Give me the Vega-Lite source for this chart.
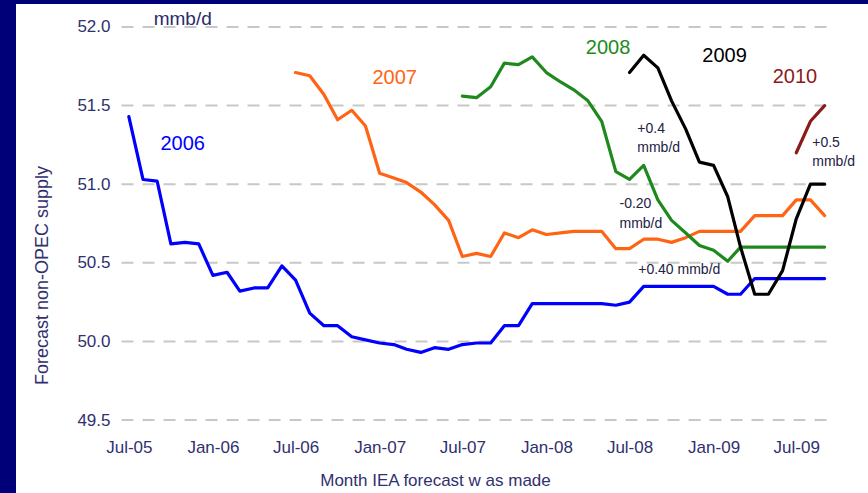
{
  "$schema": "https://vega.github.io/schema/vega-lite/v6.json",
  "autosize": {"type": "none"},
  "padding": {"left": 16, "top": 4, "right": 0, "bottom": 0},
  "width": 852,
  "height": 489,
  "background": "#000078",
  "config": {
    "view": {"fill": "white", "stroke": null},
    "font": "Liberation Sans"
  },
  "datasets": {
    "grid": [
      {"date": "2005-06-15", "date2": "2009-09-20", "value": 49.5},
      {"date": "2005-06-15", "date2": "2009-09-20", "value": 50.0},
      {"date": "2005-06-15", "date2": "2009-09-20", "value": 50.5},
      {"date": "2005-06-15", "date2": "2009-09-20", "value": 51.0},
      {"date": "2005-06-15", "date2": "2009-09-20", "value": 51.5},
      {"date": "2005-06-15", "date2": "2009-09-20", "value": 52.0}
    ],
    "lines": [
      {"series": "2006", "date": "2005-07-01", "value": 51.43},
      {"series": "2006", "date": "2005-08-01", "value": 51.03},
      {"series": "2006", "date": "2005-09-01", "value": 51.02},
      {"series": "2006", "date": "2005-10-01", "value": 50.62},
      {"series": "2006", "date": "2005-11-01", "value": 50.63},
      {"series": "2006", "date": "2005-12-01", "value": 50.62},
      {"series": "2006", "date": "2006-01-01", "value": 50.42},
      {"series": "2006", "date": "2006-02-01", "value": 50.44},
      {"series": "2006", "date": "2006-03-01", "value": 50.32},
      {"series": "2006", "date": "2006-04-01", "value": 50.34},
      {"series": "2006", "date": "2006-05-01", "value": 50.34},
      {"series": "2006", "date": "2006-06-01", "value": 50.48},
      {"series": "2006", "date": "2006-07-01", "value": 50.39},
      {"series": "2006", "date": "2006-08-01", "value": 50.18},
      {"series": "2006", "date": "2006-09-01", "value": 50.10},
      {"series": "2006", "date": "2006-10-01", "value": 50.10},
      {"series": "2006", "date": "2006-11-01", "value": 50.03},
      {"series": "2006", "date": "2006-12-01", "value": 50.01},
      {"series": "2006", "date": "2007-01-01", "value": 49.99},
      {"series": "2006", "date": "2007-02-01", "value": 49.98},
      {"series": "2006", "date": "2007-03-01", "value": 49.95},
      {"series": "2006", "date": "2007-04-01", "value": 49.93},
      {"series": "2006", "date": "2007-05-01", "value": 49.96},
      {"series": "2006", "date": "2007-06-01", "value": 49.95},
      {"series": "2006", "date": "2007-07-01", "value": 49.98},
      {"series": "2006", "date": "2007-08-01", "value": 49.99},
      {"series": "2006", "date": "2007-09-01", "value": 49.99},
      {"series": "2006", "date": "2007-10-01", "value": 50.10},
      {"series": "2006", "date": "2007-11-01", "value": 50.10},
      {"series": "2006", "date": "2007-12-01", "value": 50.24},
      {"series": "2006", "date": "2008-01-01", "value": 50.24},
      {"series": "2006", "date": "2008-02-01", "value": 50.24},
      {"series": "2006", "date": "2008-03-01", "value": 50.24},
      {"series": "2006", "date": "2008-04-01", "value": 50.24},
      {"series": "2006", "date": "2008-05-01", "value": 50.24},
      {"series": "2006", "date": "2008-06-01", "value": 50.23},
      {"series": "2006", "date": "2008-07-01", "value": 50.25},
      {"series": "2006", "date": "2008-08-01", "value": 50.35},
      {"series": "2006", "date": "2008-09-01", "value": 50.35},
      {"series": "2006", "date": "2008-10-01", "value": 50.35},
      {"series": "2006", "date": "2008-11-01", "value": 50.35},
      {"series": "2006", "date": "2008-12-01", "value": 50.35},
      {"series": "2006", "date": "2009-01-01", "value": 50.35},
      {"series": "2006", "date": "2009-02-01", "value": 50.30},
      {"series": "2006", "date": "2009-03-01", "value": 50.30},
      {"series": "2006", "date": "2009-04-01", "value": 50.40},
      {"series": "2006", "date": "2009-05-01", "value": 50.40},
      {"series": "2006", "date": "2009-06-01", "value": 50.40},
      {"series": "2006", "date": "2009-07-01", "value": 50.40},
      {"series": "2006", "date": "2009-08-01", "value": 50.40},
      {"series": "2006", "date": "2009-09-01", "value": 50.40},

      {"series": "2007", "date": "2006-07-01", "value": 51.71},
      {"series": "2007", "date": "2006-08-01", "value": 51.69},
      {"series": "2007", "date": "2006-09-01", "value": 51.57},
      {"series": "2007", "date": "2006-10-01", "value": 51.41},
      {"series": "2007", "date": "2006-11-01", "value": 51.47},
      {"series": "2007", "date": "2006-12-01", "value": 51.37},
      {"series": "2007", "date": "2007-01-01", "value": 51.07},
      {"series": "2007", "date": "2007-02-01", "value": 51.04},
      {"series": "2007", "date": "2007-03-01", "value": 51.01},
      {"series": "2007", "date": "2007-04-01", "value": 50.95},
      {"series": "2007", "date": "2007-05-01", "value": 50.87},
      {"series": "2007", "date": "2007-06-01", "value": 50.77},
      {"series": "2007", "date": "2007-07-01", "value": 50.54},
      {"series": "2007", "date": "2007-08-01", "value": 50.56},
      {"series": "2007", "date": "2007-09-01", "value": 50.54},
      {"series": "2007", "date": "2007-10-01", "value": 50.69},
      {"series": "2007", "date": "2007-11-01", "value": 50.66},
      {"series": "2007", "date": "2007-12-01", "value": 50.71},
      {"series": "2007", "date": "2008-01-01", "value": 50.68},
      {"series": "2007", "date": "2008-02-01", "value": 50.69},
      {"series": "2007", "date": "2008-03-01", "value": 50.70},
      {"series": "2007", "date": "2008-04-01", "value": 50.70},
      {"series": "2007", "date": "2008-05-01", "value": 50.70},
      {"series": "2007", "date": "2008-06-01", "value": 50.59},
      {"series": "2007", "date": "2008-07-01", "value": 50.59},
      {"series": "2007", "date": "2008-08-01", "value": 50.65},
      {"series": "2007", "date": "2008-09-01", "value": 50.65},
      {"series": "2007", "date": "2008-10-01", "value": 50.63},
      {"series": "2007", "date": "2008-11-01", "value": 50.66},
      {"series": "2007", "date": "2008-12-01", "value": 50.70},
      {"series": "2007", "date": "2009-01-01", "value": 50.70},
      {"series": "2007", "date": "2009-02-01", "value": 50.70},
      {"series": "2007", "date": "2009-03-01", "value": 50.70},
      {"series": "2007", "date": "2009-04-01", "value": 50.80},
      {"series": "2007", "date": "2009-05-01", "value": 50.80},
      {"series": "2007", "date": "2009-06-01", "value": 50.80},
      {"series": "2007", "date": "2009-07-01", "value": 50.90},
      {"series": "2007", "date": "2009-08-01", "value": 50.90},
      {"series": "2007", "date": "2009-09-01", "value": 50.80},

      {"series": "2008", "date": "2007-07-01", "value": 51.56},
      {"series": "2008", "date": "2007-08-01", "value": 51.55},
      {"series": "2008", "date": "2007-09-01", "value": 51.62},
      {"series": "2008", "date": "2007-10-01", "value": 51.77},
      {"series": "2008", "date": "2007-11-01", "value": 51.76},
      {"series": "2008", "date": "2007-12-01", "value": 51.81},
      {"series": "2008", "date": "2008-01-01", "value": 51.71},
      {"series": "2008", "date": "2008-02-01", "value": 51.65},
      {"series": "2008", "date": "2008-03-01", "value": 51.60},
      {"series": "2008", "date": "2008-04-01", "value": 51.53},
      {"series": "2008", "date": "2008-05-01", "value": 51.40},
      {"series": "2008", "date": "2008-06-01", "value": 51.08},
      {"series": "2008", "date": "2008-07-01", "value": 51.03},
      {"series": "2008", "date": "2008-08-01", "value": 51.12},
      {"series": "2008", "date": "2008-09-01", "value": 50.90},
      {"series": "2008", "date": "2008-10-01", "value": 50.77},
      {"series": "2008", "date": "2008-11-01", "value": 50.69},
      {"series": "2008", "date": "2008-12-01", "value": 50.61},
      {"series": "2008", "date": "2009-01-01", "value": 50.58},
      {"series": "2008", "date": "2009-02-01", "value": 50.51},
      {"series": "2008", "date": "2009-03-01", "value": 50.60},
      {"series": "2008", "date": "2009-04-01", "value": 50.60},
      {"series": "2008", "date": "2009-05-01", "value": 50.60},
      {"series": "2008", "date": "2009-06-01", "value": 50.60},
      {"series": "2008", "date": "2009-07-01", "value": 50.60},
      {"series": "2008", "date": "2009-08-01", "value": 50.60},
      {"series": "2008", "date": "2009-09-01", "value": 50.60},

      {"series": "2009", "date": "2008-07-01", "value": 51.71},
      {"series": "2009", "date": "2008-08-01", "value": 51.82},
      {"series": "2009", "date": "2008-09-01", "value": 51.74},
      {"series": "2009", "date": "2008-10-01", "value": 51.53},
      {"series": "2009", "date": "2008-11-01", "value": 51.35},
      {"series": "2009", "date": "2008-12-01", "value": 51.14},
      {"series": "2009", "date": "2009-01-01", "value": 51.12},
      {"series": "2009", "date": "2009-02-01", "value": 50.92},
      {"series": "2009", "date": "2009-03-01", "value": 50.60},
      {"series": "2009", "date": "2009-04-01", "value": 50.30},
      {"series": "2009", "date": "2009-05-01", "value": 50.30},
      {"series": "2009", "date": "2009-06-01", "value": 50.45},
      {"series": "2009", "date": "2009-07-01", "value": 50.78},
      {"series": "2009", "date": "2009-08-01", "value": 51.00},
      {"series": "2009", "date": "2009-09-01", "value": 51.00},

      {"series": "2010", "date": "2009-07-01", "value": 51.20},
      {"series": "2010", "date": "2009-08-01", "value": 51.40},
      {"series": "2010", "date": "2009-09-01", "value": 51.50}
    ],
    "labels": [
      {"series": "2006", "date": "2005-10-27", "value": 51.218},
      {"series": "2007", "date": "2007-02-03", "value": 51.637},
      {"series": "2008", "date": "2008-05-15", "value": 51.828},
      {"series": "2009", "date": "2009-01-25", "value": 51.777},
      {"series": "2010", "date": "2009-06-28", "value": 51.644}
    ],
    "notes": [
      {"date": "2008-07-18", "value": 51.326, "text": "+0.4"},
      {"date": "2008-07-18", "value": 51.205, "text": "mmb/d"},
      {"date": "2008-06-09", "value": 50.849, "text": "-0.20"},
      {"date": "2008-06-09", "value": 50.721, "text": "mmb/d"},
      {"date": "2008-07-20", "value": 50.429, "text": "+0.40 mmb/d"},
      {"date": "2009-08-05", "value": 51.237, "text": "+0.5"},
      {"date": "2009-08-05", "value": 51.116, "text": "mmb/d"}
    ],
    "unit": [
      {"date": "2005-10-27", "value": 52.013, "text": "mmb/d"}
    ]
  },
  "encoding": {
    "x": {
      "field": "date",
      "type": "temporal",
      "scale": {
        "type": "utc",
        "nice": false,
        "domain": [
          {"year": 2004, "month": 10, "date": 27, "utc": true},
          {"year": 2009, "month": 12, "date": 5, "utc": true}
        ]
      },
      "axis": {
        "title": "Month IEA forecast w as made",
        "values": [
          {"year": 2005, "month": 7, "date": 1, "utc": true},
          {"year": 2006, "month": 1, "date": 1, "utc": true},
          {"year": 2006, "month": 7, "date": 1, "utc": true},
          {"year": 2007, "month": 1, "date": 1, "utc": true},
          {"year": 2007, "month": 7, "date": 1, "utc": true},
          {"year": 2008, "month": 1, "date": 1, "utc": true},
          {"year": 2008, "month": 7, "date": 1, "utc": true},
          {"year": 2009, "month": 1, "date": 1, "utc": true},
          {"year": 2009, "month": 7, "date": 1, "utc": true}
        ],
        "format": "%b-%y",
        "grid": false,
        "domain": false,
        "ticks": false,
        "tickSize": 0,
        "offset": -41,
        "labelPadding": 0,
        "labelBaseline": "alphabetic",
        "labelFlush": false,
        "labelOverlap": false,
        "labelFont": "Liberation Sans",
        "labelFontSize": 17,
        "labelColor": "#303070",
        "titleFont": "Liberation Sans",
        "titleFontSize": 17,
        "titleFontWeight": "normal",
        "titleColor": "#303070",
        "titleX": 419,
        "titleY": 33,
        "titleAlign": "center",
        "titleBaseline": "alphabetic"
      }
    },
    "y": {
      "field": "value",
      "type": "quantitative",
      "scale": {"domain": [49.036, 52.146], "nice": false, "zero": false},
      "axis": {
        "title": "Forecast non-OPEC supply",
        "values": [49.5, 50, 50.5, 51, 51.5, 52],
        "format": ".1f",
        "grid": false,
        "domain": false,
        "ticks": false,
        "tickSize": 0,
        "offset": -106,
        "labelPadding": 12,
        "labelOverlap": false,
        "labelFont": "Liberation Sans",
        "labelFontSize": 17,
        "labelColor": "#303070",
        "titleFont": "Liberation Sans",
        "titleFontSize": 18,
        "titleFontWeight": "normal",
        "titleColor": "#303070",
        "titleAngle": -90,
        "titleX": -80,
        "titleY": 271,
        "titleAlign": "center",
        "titleBaseline": "middle"
      }
    }
  },
  "layer": [
    {
      "data": {"name": "grid"},
      "mark": {"type": "rule", "strokeDash": [12, 9], "color": "#c8c8c8", "strokeWidth": 2},
      "encoding": {"x2": {"field": "date2"}}
    },
    {
      "data": {"name": "lines"},
      "mark": {"type": "line", "strokeWidth": 3.2, "strokeJoin": "round", "strokeCap": "round", "clip": false},
      "encoding": {
        "color": {
          "field": "series",
          "type": "nominal",
          "scale": {
            "domain": ["2006", "2007", "2008", "2009", "2010"],
            "range": ["#0000ff", "#ff6414", "#1e8a1e", "#000000", "#8b1a1a"]
          },
          "legend": null
        }
      }
    },
    {
      "data": {"name": "labels"},
      "mark": {"type": "text", "fontSize": 20, "font": "Liberation Sans", "align": "center", "baseline": "alphabetic"},
      "encoding": {
        "text": {"field": "series"},
        "color": {"field": "series", "type": "nominal", "legend": null}
      }
    },
    {
      "data": {"name": "notes"},
      "mark": {"type": "text", "fontSize": 14, "font": "Liberation Sans", "align": "left", "baseline": "alphabetic", "color": "#222244"},
      "encoding": {"text": {"field": "text"}}
    },
    {
      "data": {"name": "unit"},
      "mark": {"type": "text", "fontSize": 19, "font": "Liberation Sans", "align": "center", "baseline": "alphabetic", "color": "#2a2a6a"},
      "encoding": {"text": {"field": "text"}}
    }
  ]
}
